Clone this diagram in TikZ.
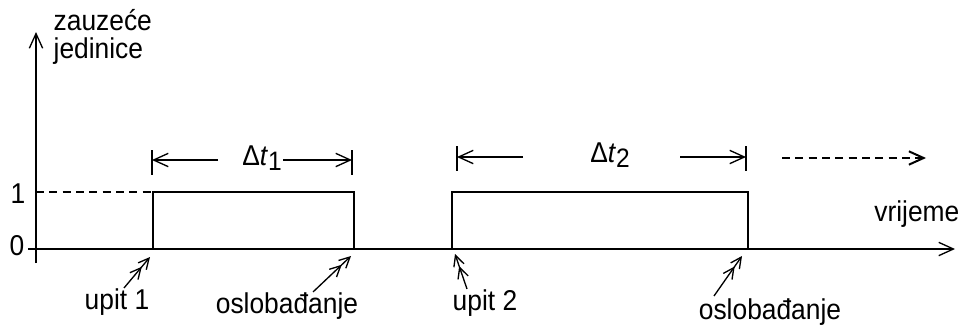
\documentclass[tikz,border=0pt]{standalone}
\usepackage{fontspec}
\setmainfont[FakeStretch=0.92]{Liberation Sans}
\usetikzlibrary{arrows.meta}
\tikzset{
  barb/.style={-{Straight Barb[length=11pt,width=10pt]}},
  hint/.style={-{Straight Barb[length=8pt,width=8pt]Straight Barb[length=8pt,width=8pt]}},
  lbl/.style={inner sep=0.75pt,font=\fontsize{21.5}{21}\selectfont},
}
\newcommand{\dtlabel}[1]{Δ\textit{t}\raisebox{-0.35ex}{\fontsize{20}{20}\selectfont #1}}

\begin{document}
\begin{tikzpicture}[x=0.75pt,y=0.75pt,yscale=-1,xscale=1,line width=1pt]
            \path[use as bounding box] (0,0) rectangle (964,329); % page size
            % Y-Axis
            \coordinate (ybot) at (36,263);
            \coordinate (ytop) at (36,32);
            \draw[barb] (ybot) -- (ytop); % Line
            \node[lbl,anchor=north west,align=left] (ylabel) at (52,8) {zauzeće\\jedinice}; % Text Node y

            % X-Axis
            \node[lbl] (zero) at (17,246) {0}; % Text Node 0
            \coordinate (xbeg) at (28,249);
            \coordinate (xend) at (955,249);
            \draw[barb] (xbeg) -- (xend); % Line
            \node[lbl,anchor=south east] (xlabel) at (961,229) {vrijeme}; % Text Node x

            % level 1
            \node[lbl] (one) at (18,194) {1}; % Text Node 1
            \draw[dash pattern=on 6pt off 4pt] (36,192) -- (153,192); % Line

            % busy intervals
            \draw (153,249) rectangle (354,192); % first
            \draw (452,249) rectangle (748,192); % second

            % Delta t_1
            \coordinate (tl1) at (152,160);
            \coordinate (tr1) at (352,160);
            \draw (152,150) -- (152,175) (352,150) -- (352,175); % Ticks
            \node[lbl] (dt1) at (262,158) {\dtlabel{1}}; % Text Node dt1
            \draw[barb] (218,160) -- (tl1); % Arrow left
            \draw[barb] (283,160) -- (tr1); % Arrow right

            % Delta t_2
            \coordinate (tl2) at (457,157);
            \coordinate (tr2) at (746,157);
            \draw (457,146) -- (457,171) (746,146) -- (746,171); % Ticks
            \node[lbl] (dt2) at (610,155) {\dtlabel{2}}; % Text Node dt2
            \draw[barb] (523,157) -- (tl2); % Arrow left
            \draw[barb] (680,157) -- (tr2); % Arrow right

            % continues
            \coordinate (cbeg) at (782,158);
            \coordinate (cend) at (926,158);
            \draw[barb,line width=1.5pt,dash pattern=on 6pt off 4pt] (cbeg) -- (cend); % Dashed arrow

            % events
            \node[lbl] (ask1) at (117,302) {upit 1};
            \coordinate (ask1tip) at (150,257);
            \draw[hint] (ask1.north) ++(7,1) -- (ask1tip);

            \node[lbl] (free1) at (287,306) {oslobađanje};
            \coordinate (free1tip) at (351,256);
            \draw[hint] (free1.north) ++(26,1) -- (free1tip);

            \node[lbl] (ask2) at (485,303) {upit 2};
            \coordinate (ask2tip) at (455,254);
            \draw[hint] (ask2.north) ++(-18,1) -- (ask2tip);

            \node[lbl] (free2) at (770,312) {oslobađanje};
            \coordinate (free2tip) at (742,256);
            \draw[hint] (free2.north) ++(-56,-1) -- (free2tip);
        \end{tikzpicture}
\end{document}
